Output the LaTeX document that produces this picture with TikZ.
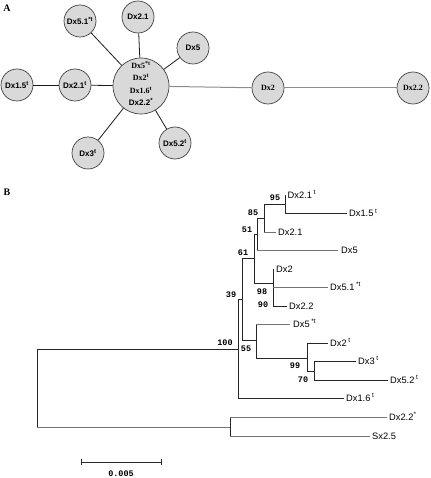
\documentclass[tikz,border=0pt]{standalone}
\usepackage{fontspec}
\setmainfont{Liberation Serif}
\setsansfont{Liberation Sans}
\setmonofont{Liberation Mono}
\begin{document}
\begin{tikzpicture}[x=1pt,y=-1pt,
  hap/.style={circle, draw=black!75, fill=black!15, line width=0.7pt, minimum size=32pt, inner sep=0pt, font=\sffamily\bfseries\fontsize{8}{8}\selectfont},
  bighap/.style={hap, minimum size=56pt},
  ctext/.style={inner sep=0pt, font=\bfseries\fontsize{8}{8}\selectfont},
  spoke/.style={line width=0.8pt, black!90},
  glink/.style={line width=1pt, black!45},
  br/.style={line width=0.8pt, black!85},
  gbr/.style={line width=0.8pt, black!55},
  leaf/.style={anchor=west, inner sep=0pt, text height=6.5pt, text depth=0pt, font=\sffamily\fontsize{9.3}{9}\selectfont},
  boot/.style={inner sep=0pt, font=\ttfamily\bfseries\fontsize{8.5}{8}\selectfont},
  panel/.style={inner sep=0pt, font=\bfseries\fontsize{10}{10}\selectfont}
]
\useasboundingbox (0,0) rectangle (430,478);

% ---------------- Panel A ----------------
\node[panel] (pA) at (7,8) {A};

\node[bighap] (c) at (141,86) {};
\node[ctext] (c1) at (141,65) {Dx5\textsuperscript{*t}};
\node[ctext] (c2) at (141,77.5) {Dx2\textsuperscript{t}};
\node[ctext] (c3) at (141,90) {Dx1.6\textsuperscript{t}};
\node[ctext, font=\sffamily\bfseries\fontsize{8}{8}\selectfont] (c4) at (141,102) {Dx2.2\textsuperscript{*}};

\node[hap] (h51) at (80,21) {Dx5.1\textsuperscript{*t}};
\node[hap] (h21) at (138,17) {Dx2.1};
\node[hap] (h5) at (193,48) {Dx5};
\node[hap] (h21t) at (75,85) {Dx2.1\textsuperscript{t}};
\node[hap] (h15t) at (17,85) {Dx1.5\textsuperscript{t}};
\node[hap] (h3t) at (88,153) {Dx3\textsuperscript{t}};
\node[hap] (h52t) at (175,143) {Dx5.2\textsuperscript{t}};
\node[hap, font=\bfseries\fontsize{8}{8}\selectfont] (h2) at (268,88) {Dx2};
\node[hap, font=\bfseries\fontsize{8}{8}\selectfont] (h22) at (413,88) {Dx2.2};

\draw[spoke] (c) -- (h51);
\draw[spoke] (c) -- (h21);
\draw[spoke] (c) -- (h5);
\draw[spoke] (c) -- (h21t);
\draw[spoke] (h21t) -- (h15t);
\draw[spoke] (c) -- (h3t);
\draw[spoke] (c) -- (h52t);
\draw[glink] (c) -- (h2);
\draw[glink] (h2) -- (h22);

% ---------------- Panel B ----------------
\node[panel] (pB) at (7,192) {B};

% root
\draw[br] (37,349) -- (37,427);
\draw[br] (37,349) -- (238,349);
\draw[gbr] (37,427) -- (230,427);
% outgroup
\draw[br] (230,417) -- (230,436);
\draw[gbr] (230,417) -- (387,417);
\draw[gbr] (230,436) -- (370,436);
% node 100
\draw[br] (238,299) -- (238,398.5);
\draw[br] (238,398.5) -- (344,398.5);
% node 39
\draw[br] (238,299) -- (242,299);
\draw[br] (242,258.5) -- (242,340);
% node 61
\draw[br] (242,258.5) -- (254,258.5);
\draw[br] (254,234) -- (254,283);
% node 51
\draw[br] (254,234) -- (257,234);
\draw[br] (257,218) -- (257,250.5);
\draw[gbr] (257,250.5) -- (338,250.5);
% node 85
\draw[br] (257,218) -- (264,218);
\draw[br] (264,204) -- (264,232);
\draw[gbr] (264,232) -- (276,232);
% node 95
\draw[br] (264,204) -- (285,204);
\draw[br] (285,195) -- (285,213.6);
\draw[br] (285,213.6) -- (347,213.6);
% node 98 / 90
\draw[br] (254,283) -- (273,283);
\draw[br] (273,269) -- (273,306);
\draw[gbr] (273,287.5) -- (328,287.5);
\draw[br] (273,306) -- (287,306);
% node 55
\draw[br] (242,340) -- (256,340);
\draw[br] (256,324.5) -- (256,358);
\draw[gbr] (256,324.5) -- (290,324.5);
% node 99
\draw[br] (256,358) -- (307,358);
\draw[br] (307,343) -- (307,371);
\draw[br] (307,343) -- (328,343);
% node 70
\draw[br] (307,371) -- (314,371);
\draw[br] (314,361.5) -- (314,380);
\draw[br] (314,361.5) -- (356,361.5);
\draw[br] (314,380) -- (388,380);

% leaves
\node[leaf] (l1) at (287.5,195) {Dx2.1\,\textsuperscript{t}};
\node[leaf] (l2) at (349,213.6) {Dx1.5\,\textsuperscript{t}};
\node[leaf] (l3) at (278,232) {Dx2.1};
\node[leaf] (l4) at (341,250.5) {Dx5};
\node[leaf] (l5) at (276,269) {Dx2};
\node[leaf] (l6) at (330,287.5) {Dx5.1\,\textsuperscript{*t}};
\node[leaf] (l7) at (289,306) {Dx2.2};
\node[leaf] (l8) at (293,324.5) {Dx5\,\textsuperscript{*t}};
\node[leaf] (l9) at (330,343) {Dx2\,\textsuperscript{t}};
\node[leaf] (l10) at (358,361.5) {Dx3\,\textsuperscript{t}};
\node[leaf] (l11) at (390,380) {Dx5.2\,\textsuperscript{t}};
\node[leaf] (l12) at (346,398.5) {Dx1.6\,\textsuperscript{t}};
\node[leaf] (l13) at (389,417) {Dx2.2\textsuperscript{*}};
\node[leaf] (l14) at (372,436) {Sx2.5};

% bootstrap values
\node[boot] (b95) at (275,198) {95};
\node[boot] (b85) at (253,213) {85};
\node[boot] (b51) at (247,230) {51};
\node[boot] (b61) at (243,253) {61};
\node[boot] (b39) at (231,295) {39};
\node[boot] (b98) at (262,292) {98};
\node[boot] (b90) at (263,305) {90};
\node[boot] (b100) at (225,343) {100};
\node[boot] (b55) at (246,349) {55};
\node[boot] (b99) at (295,366) {99};
\node[boot] (b70) at (303,380) {70};

% scale bar
\coordinate (s1) at (81,462);
\coordinate (s2) at (161,462);
\draw[br] (s1) -- (s2);
\draw[br] ([yshift=-3pt]s1) -- ([yshift=3pt]s1);
\draw[br] ([yshift=-3pt]s2) -- ([yshift=3pt]s2);
\node[boot] (sl) at (121,474) {0.005};
\end{tikzpicture}
\end{document}
